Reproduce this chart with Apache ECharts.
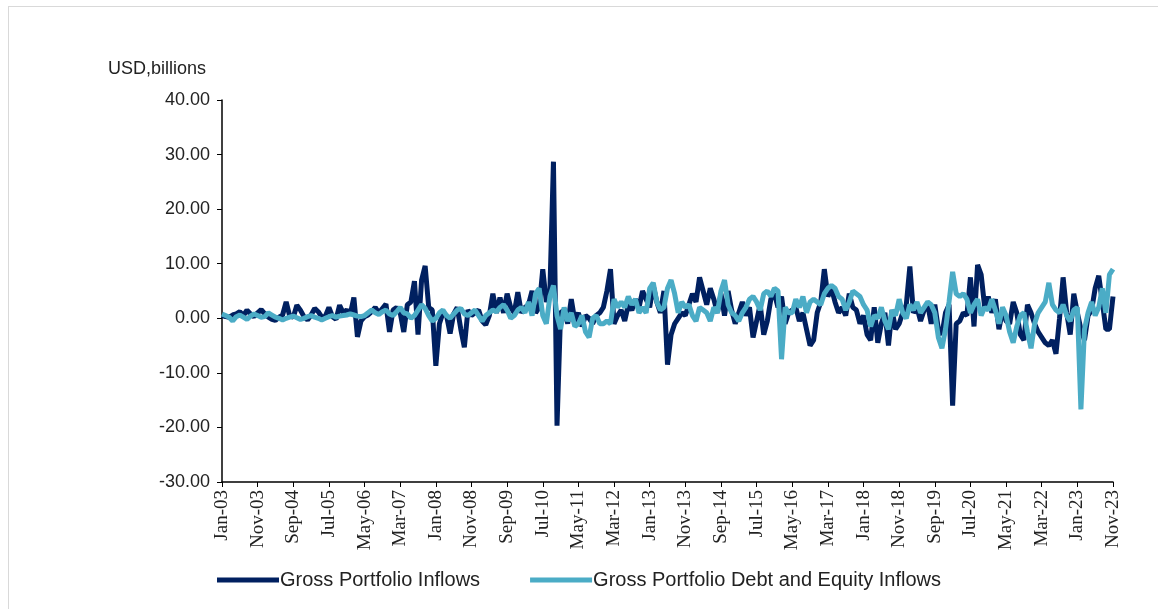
<!DOCTYPE html>
<html>
<head>
<meta charset="utf-8">
<script src="https://cdn.jsdelivr.net/npm/echarts@6/dist/echarts.min.js"></script>
<style>
html,body{margin:0;padding:0;background:#fff;}
#frame{position:absolute;left:8px;top:6px;width:1150px;height:603px;border-left:1px solid #d9d9d9;border-top:1px solid #d9d9d9;box-sizing:border-box;}
#main{position:absolute;left:0;top:0;width:1158px;height:609px;}
</style>
</head>
<body>
<div id="frame"></div>
<div id="main"></div>
<script>
var monthNames = ['Jan','Feb','Mar','Apr','May','Jun','Jul','Aug','Sep','Oct','Nov','Dec'];
var months = [];
for (var y = 2003; y <= 2023; y++) {
    for (var m = 0; m < 12; m++) {
        if (y === 2023 && m > 10) break;
        months.push(monthNames[m] + '-' + String(y).slice(2));
    }
}

// Gross Portfolio Inflows
var grossInflows = [
    0.5,0.3,0.2,0.6,0.8,1.2,0.5,1.5,0.8,0.3,1.0,1.6,
    0.8,0.2,-0.2,-0.4,0.2,0.6,3.0,0.4,0.2,2.4,1.5,0.3,
    -0.3,0.6,1.8,1.2,0.2,0.4,2.0,0.3,-0.2,2.4,1.0,1.5,
    0.8,3.8,-3.4,-0.5,0.3,0.6,1.2,2.0,1.0,1.8,2.6,-2.5,
    1.5,2.0,1.0,-2.5,2.5,3.0,6.8,-3.0,7.0,9.6,2.0,1.5,
    -8.7,-1.0,1.0,0.5,-2.8,0.8,2.0,-2.0,-5.3,1.5,0.5,1.0,
    1.5,-0.5,-1.2,0.5,4.5,1.0,3.8,1.0,4.5,2.0,1.0,4.8,
    1.0,2.0,2.5,5.0,1.0,2.0,9.0,3.0,5.0,28.7,-19.7,1.0,
    1.5,-1.0,3.5,-0.5,1.0,-1.5,0.5,0.0,-1.0,0.5,1.0,2.0,
    5.0,9.0,-1.0,0.5,1.5,-0.5,2.5,1.5,3.5,2.0,5.0,3.5,
    2.0,6.0,3.0,1.0,5.0,-8.5,-3.0,-1.0,0.0,1.0,0.5,2.5,
    4.5,3.0,7.5,5.0,2.5,5.5,3.5,1.0,4.5,0.5,5.0,1.5,
    -1.0,1.0,3.0,0.5,2.0,-3.5,-0.5,2.5,-3.0,-0.5,3.5,4.5,
    2.0,4.0,-1.0,1.0,1.5,2.0,-0.5,1.0,-2.0,-5.0,-4.0,1.0,
    3.0,9.0,4.0,5.5,3.0,1.0,2.0,0.5,4.5,2.0,1.5,-1.0,
    0.5,-3.0,-4.0,2.0,-4.5,-1.0,1.0,-5.0,1.5,-2.0,-1.0,1.0,
    2.5,9.5,1.0,2.0,-0.5,1.5,2.5,-1.0,2.5,-2.0,-3.0,1.0,
    2.5,-16.0,-1.0,-0.5,1.0,0.5,7.5,-1.5,9.8,8.0,2.0,4.0,
    1.0,3.5,-2.0,1.5,-0.5,-1.0,3.0,1.0,-3.0,-4.0,2.5,1.0,
    -1.0,-2.5,-3.5,-4.5,-5.0,-4.0,-6.5,0.0,7.5,1.0,-3.0,4.5,
    1.0,-2.0,-4.0,0.5,1.5,5.5,7.8,3.0,-2.0,-2.0,4.0
];

// Gross Portfolio Debt and Equity Inflows
var debtEquityInflows = [
    0.8,0.5,0.2,-0.5,0.3,0.6,0.2,-0.2,0.4,0.8,0.5,0.2,
    0.3,1.0,0.6,0.2,0.0,-0.3,0.0,0.2,0.4,0.1,-0.2,0.0,
    0.3,0.5,0.2,0.0,-0.3,0.0,0.3,0.5,0.2,0.4,0.5,0.6,
    0.8,0.6,0.4,0.3,0.5,1.0,1.5,1.0,0.7,1.2,1.5,0.8,
    0.5,1.2,2.0,1.0,0.8,0.0,0.5,1.5,2.5,1.8,0.5,-0.5,
    0.0,1.0,1.5,0.5,0.0,0.8,1.5,1.8,0.8,0.5,1.0,1.5,
    0.5,-0.5,0.5,1.0,1.5,1.2,2.0,2.5,1.5,0.0,0.5,1.5,
    2.0,1.0,3.0,0.5,4.5,5.5,0.5,-1.0,4.0,6.0,0.5,-2.0,
    2.0,-0.5,1.0,-1.5,-1.0,0.5,-2.5,-3.5,0.0,0.5,-1.0,-1.0,
    -0.5,-1.0,3.5,2.0,3.0,2.0,4.0,2.5,3.5,1.0,2.0,1.0,
    5.5,6.5,3.0,1.5,2.0,5.5,7.0,4.5,1.0,3.0,2.0,2.5,
    0.5,-0.5,2.0,1.5,1.0,-0.5,2.0,1.0,5.0,7.0,2.5,1.0,
    0.5,-0.5,1.0,2.0,3.5,4.0,3.0,1.5,4.5,5.0,4.0,5.5,
    5.0,-7.5,2.0,1.0,1.0,3.5,2.0,4.0,1.0,3.0,3.5,3.0,
    2.5,4.5,5.5,6.0,5.5,4.0,3.5,1.5,3.0,5.0,4.5,4.0,
    2.5,1.5,-1.5,0.5,0.0,2.0,-0.5,-2.0,1.5,0.5,3.5,1.0,
    0.0,2.5,1.5,3.0,1.0,2.0,3.0,2.5,1.0,-3.5,-5.5,-2.0,
    3.0,8.5,4.5,4.0,4.5,3.5,1.0,2.5,3.5,0.5,2.0,1.5,
    3.5,1.5,-1.0,2.0,0.5,-2.5,-4.5,-1.5,0.5,1.0,-2.5,-5.5,
    -1.0,1.0,2.0,3.0,6.5,2.5,1.5,1.0,2.5,0.5,-0.5,1.5,
    2.0,-16.7,-2.0,1.0,3.0,0.5,2.0,5.5,1.0,8.0,9.0
];

var myChart = echarts.init(document.getElementById('main'));
var option = {
    animation: false,
    grid: {left: 222, right: 45, top: 100, bottom: 127},
    legend: {
        bottom: 14, left: 212, itemGap: 50, itemWidth: 62, itemHeight: 5,
        icon: 'rect',
        textStyle: {fontFamily: 'Liberation Sans, Arial', fontSize: 20, color: '#222', padding: [0, 0, 0, -4]},
        data: ['Gross Portfolio Inflows', 'Gross Portfolio Debt and Equity Inflows']
    },
    xAxis: {
        type: 'category',
        data: months,
        boundaryGap: false,
        axisLine: {onZero: false, lineStyle: {color: '#000', width: 1.5}},
        axisTick: {interval: 9, length: 5, lineStyle: {color: '#000'}},
        axisLabel: {
            interval: 9, rotate: 90, margin: 8,
            fontFamily: 'Liberation Serif, Times New Roman', fontSize: 19, color: '#222'
        }
    },
    yAxis: {
        type: 'value',
        min: -30, max: 40, interval: 10,
        name: 'USD,billions',
        nameLocation: 'end',
        nameGap: 22,
        nameTextStyle: {fontFamily: 'Liberation Sans, Arial', fontSize: 18, color: '#222', align: 'center', padding: [0, 0, 0, -130]},
        splitLine: {show: false},
        axisLine: {show: true, lineStyle: {color: '#000', width: 1.5}},
        axisTick: {show: true, length: 5, lineStyle: {color: '#000'}},
        axisLabel: {
            fontFamily: 'Liberation Sans, Arial', fontSize: 18, color: '#222', margin: 12,
            formatter: function (v) { return v.toFixed(2); }
        }
    },
    series: [{
        name: 'Gross Portfolio Inflows',
        type: 'line',
        data: grossInflows,
        showSymbol: false,
        lineStyle: {color: '#002060', width: 5},
        itemStyle: {color: '#002060'}
    }, {
        name: 'Gross Portfolio Debt and Equity Inflows',
        type: 'line',
        data: debtEquityInflows,
        showSymbol: false,
        lineStyle: {color: '#4bacc6', width: 5},
        itemStyle: {color: '#4bacc6'}
    }]
};
myChart.setOption(option);
</script>
</body>
</html>
